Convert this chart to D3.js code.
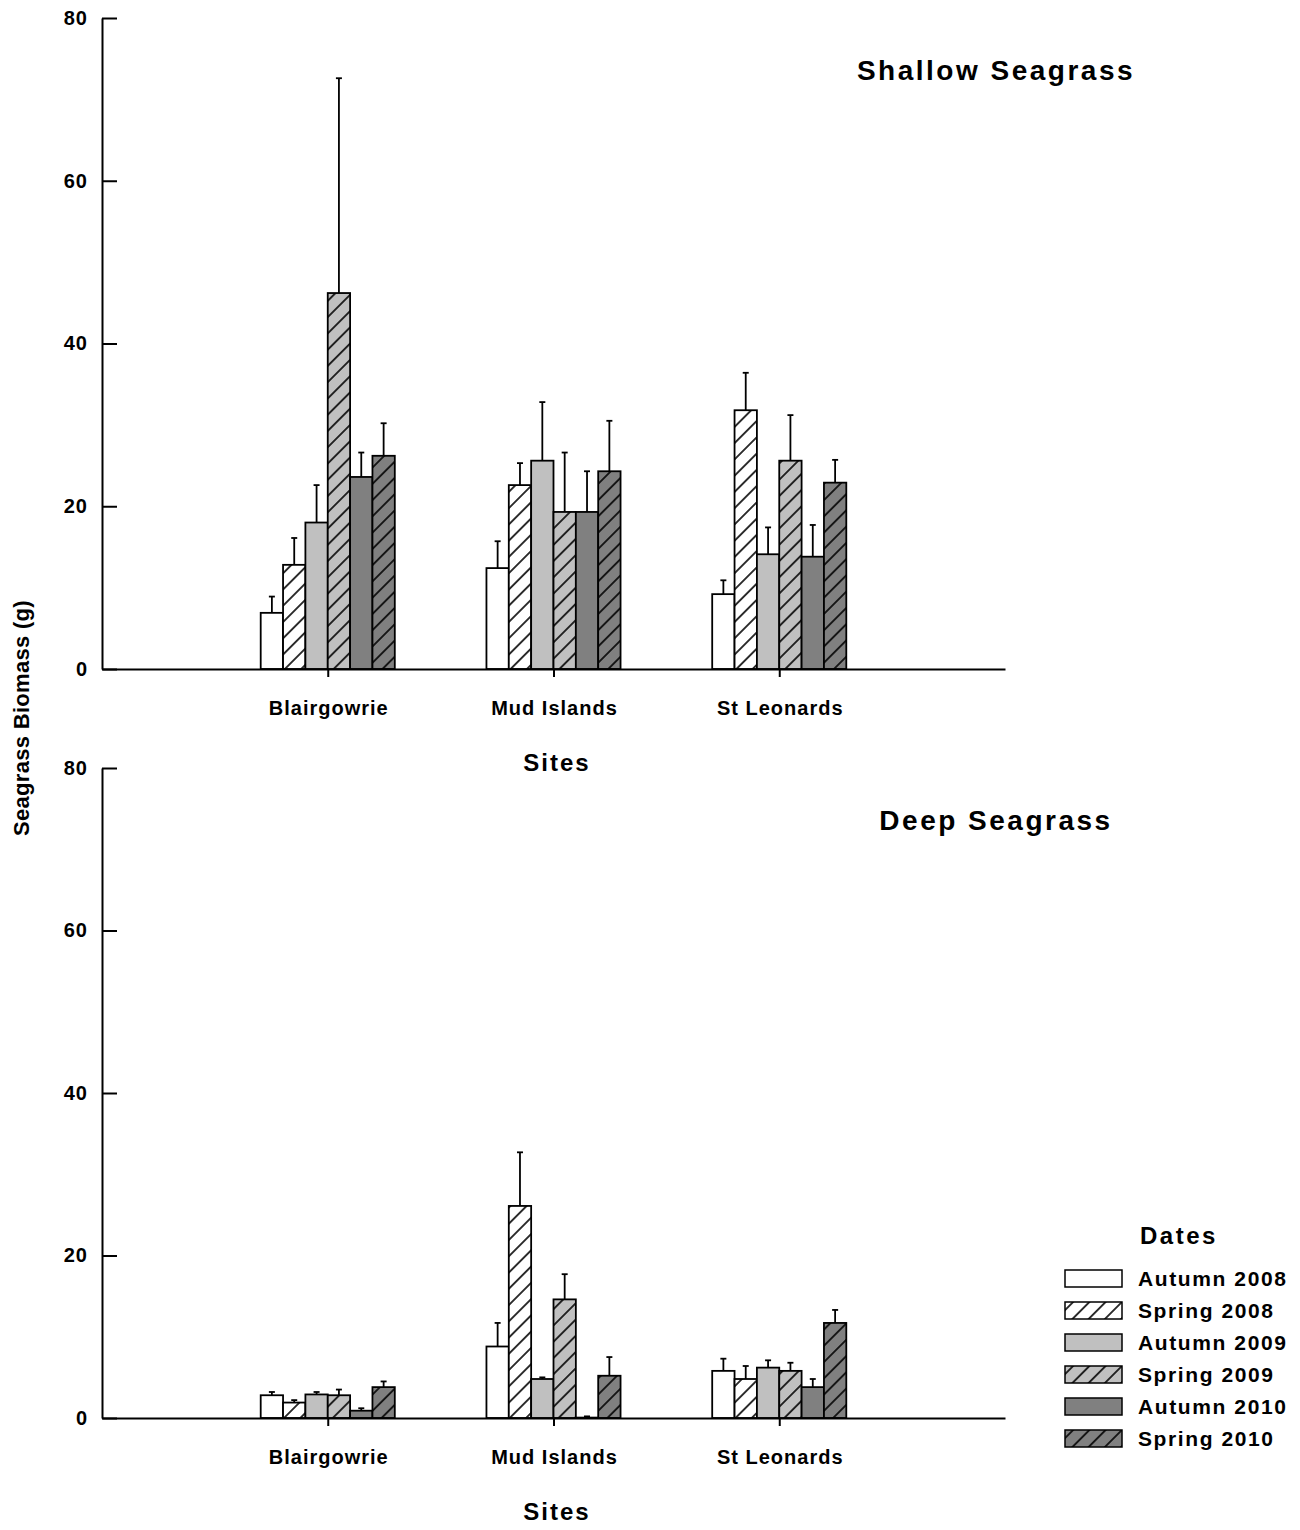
<!DOCTYPE html>
<html>
<head>
<meta charset="utf-8">
<script src="https://cdn.jsdelivr.net/npm/d3@7"></script>
<style>
  body { margin: 0; background: #fff; }
  text { font-family: "Liberation Sans", Arial, sans-serif; font-weight: bold; fill: #000; }
</style>
</head>
<body>
<div class="myChart"></div>
<script>
// Data
var sites = ["Blairgowrie", "Mud Islands", "St Leonards"];
var dates = ["Autumn 2008", "Spring 2008", "Autumn 2009", "Spring 2009", "Autumn 2010", "Spring 2010"];
var yTicks = [0, 20, 40, 60, 80];

// shallow seagrass, one array per site (order = dates)
var shallowBlair = [6.9, 12.8, 18.0, 46.2, 23.6, 26.2];
var shallowMud = [12.4, 22.6, 25.6, 19.3, 19.3, 24.3];
var shallowStL = [9.2, 31.8, 14.1, 25.6, 13.8, 22.9];
var shallowErrBlair = [2.0, 3.3, 4.6, 26.4, 3.0, 4.0];
var shallowErrMud = [3.3, 2.7, 7.2, 7.3, 5.0, 6.2];
var shallowErrStL = [1.7, 4.6, 3.3, 5.6, 3.9, 2.8];

// deep seagrass
var deepBlair = [2.8, 1.9, 2.9, 2.8, 0.9, 3.8];
var deepMud = [8.8, 26.1, 4.8, 14.6, 0.05, 5.2];
var deepStL = [5.8, 4.8, 6.2, 5.8, 3.8, 11.7];
var deepErrBlair = [0.4, 0.3, 0.3, 0.7, 0.3, 0.7];
var deepErrMud = [2.9, 6.6, 0.2, 3.1, 0.15, 2.3];
var deepErrStL = [1.5, 1.6, 0.9, 1.0, 1.0, 1.6];

var fills = ["#ffffff", "#ffffff", "#c0c0c0", "#c0c0c0", "#808080", "#808080"];
var hatched = [false, true, false, true, false, true];

function fillFor(i) {
  return hatched[i] ? "url(#hatch" + i + ")" : fills[i];
}

function run() {
  var width = 1300, height = 1530;
  var left = 102, right = 1005;

  var svg = d3.select(".myChart").append("svg")
    .attr("width", width)
    .attr("height", height);

  // hatch patterns
  var defs = svg.append("defs");
  hatched.forEach(function(h, i) {
    if (!h) return;
    var p = defs.append("pattern")
      .attr("id", "hatch" + i)
      .attr("patternUnits", "userSpaceOnUse")
      .attr("width", 11.5)
      .attr("height", 11.5)
      .attr("patternTransform", "rotate(45)");
    p.append("rect").attr("width", 11.5).attr("height", 11.5).attr("fill", fills[i]);
    p.append("line").attr("x1", 5.75).attr("x2", 5.75).attr("y1", 0).attr("y2", 11.5)
      .attr("stroke", "#000").attr("stroke-width", 1.6);
  });

  var xScale = d3.scalePoint().domain(sites).range([left, right]).padding(1);
  var step = xScale.step();
  var inner = d3.scaleBand().domain(dates).range([-step * 0.297, step * 0.297]);

  function panel(top, bottom, title, means, errs) {
    var yScale = d3.scaleLinear().domain([0, 80]).range([bottom, top]);
    var g = svg.append("g");

    // bars
    sites.forEach(function(site, si) {
      var grp = g.append("g").attr("transform", "translate(" + xScale(site) + ",0)");
      var rows = dates.map(function(d, i) { return { date: d, i: i, v: means[si][i], e: errs[si][i] }; });

      grp.selectAll("line.err").data(rows).enter().append("line")
        .attr("class", "err")
        .attr("x1", function(d) { return inner(d.date) + inner.bandwidth() / 2; })
        .attr("x2", function(d) { return inner(d.date) + inner.bandwidth() / 2; })
        .attr("y1", function(d) { return yScale(d.v); })
        .attr("y2", function(d) { return yScale(d.v + d.e); })
        .attr("stroke", "#000").attr("stroke-width", 1.8);
      grp.selectAll("line.cap").data(rows).enter().append("line")
        .attr("class", "cap")
        .attr("x1", function(d) { return inner(d.date) + inner.bandwidth() / 2 - 3; })
        .attr("x2", function(d) { return inner(d.date) + inner.bandwidth() / 2 + 3; })
        .attr("y1", function(d) { return yScale(d.v + d.e); })
        .attr("y2", function(d) { return yScale(d.v + d.e); })
        .attr("stroke", "#000").attr("stroke-width", 1.8);

      grp.selectAll("rect").data(rows).enter().append("rect")
        .attr("x", function(d) { return inner(d.date); })
        .attr("width", inner.bandwidth())
        .attr("y", function(d) { return yScale(d.v); })
        .attr("height", function(d) { return yScale(0) - yScale(d.v); })
        .style("fill", function(d) { return fillFor(d.i); })
        .attr("stroke", "#000")
        .attr("stroke-width", 1.8);
    });

    // y axis
    var vAxis = d3.axisLeft(yScale).tickValues(yTicks).tickSizeInner(-15).tickSizeOuter(0).tickPadding(14);
    var ya = g.append("g").attr("transform", "translate(" + left + ",0)").call(vAxis);
    ya.select(".domain").attr("stroke-width", 2);
    ya.selectAll(".tick line").attr("stroke-width", 2);
    ya.selectAll(".tick text")
      .style("font-family", "Liberation Sans, Arial, sans-serif")
      .style("font-weight", "bold")
      .style("font-size", "20px")
      .style("letter-spacing", "1px");

    // x axis
    var hAxis = d3.axisBottom(xScale).tickSizeInner(8).tickSizeOuter(0).tickFormat("");
    var xa = g.append("g").attr("transform", "translate(0," + bottom + ")").call(hAxis);
    xa.select(".domain").attr("stroke-width", 2);
    xa.selectAll(".tick line").attr("stroke-width", 2);

    g.selectAll("text.site").data(sites).enter().append("text")
      .attr("class", "site")
      .attr("x", function(d) { return xScale(d) + 1; })
      .attr("y", bottom + 46)
      .attr("text-anchor", "middle")
      .style("font-size", "20px")
      .style("letter-spacing", "1px")
      .text(function(d) { return d; });

    g.append("text")
      .attr("x", 557)
      .attr("y", bottom + 102)
      .attr("text-anchor", "middle")
      .style("font-size", "24px")
      .style("letter-spacing", "2px")
      .text("Sites");

    g.append("text")
      .attr("x", 996)
      .attr("y", top + 62)
      .attr("text-anchor", "middle")
      .style("font-size", "28px")
      .style("letter-spacing", "2.5px")
      .text(title);
  }

  panel(18, 669, "Shallow Seagrass",
    [shallowBlair, shallowMud, shallowStL],
    [shallowErrBlair, shallowErrMud, shallowErrStL]);
  panel(768, 1418, "Deep Seagrass",
    [deepBlair, deepMud, deepStL],
    [deepErrBlair, deepErrMud, deepErrStL]);

  // y title
  svg.append("text")
    .attr("transform", "translate(29,718) rotate(-90)")
    .attr("text-anchor", "middle")
    .style("font-size", "22px")
    .style("letter-spacing", "0.3px")
    .text("Seagrass Biomass (g)");

  // legend
  var legend = svg.append("g").attr("transform", "translate(1065,1270)");
  legend.append("text")
    .attr("x", 75).attr("y", -26)
    .style("font-size", "24px")
    .style("letter-spacing", "2.5px")
    .text("Dates");
  var items = legend.selectAll("g.item").data(dates).enter().append("g")
    .attr("class", "item")
    .attr("transform", function(d, i) { return "translate(0," + i * 32 + ")"; });
  items.append("rect")
    .attr("width", 57).attr("height", 17)
    .style("fill", function(d, i) { return fillFor(i); })
    .attr("stroke", "#000").attr("stroke-width", 1.5);
  items.append("text")
    .attr("x", 73).attr("y", 16)
    .style("font-size", "21px")
    .style("letter-spacing", "1.6px")
    .text(function(d) { return d; });
}
run();
</script>
</body>
</html>
